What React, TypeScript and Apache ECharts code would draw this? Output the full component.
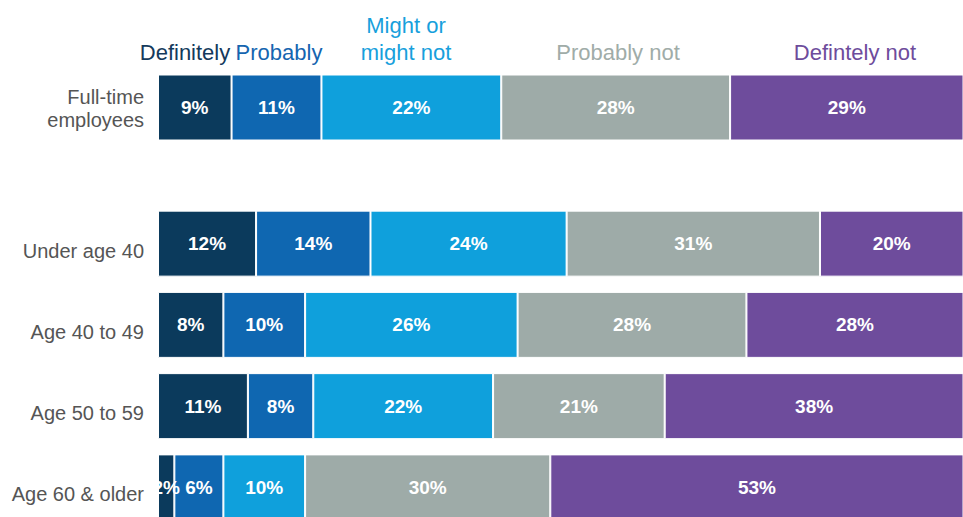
import React, { useEffect, useRef } from "react";
import * as echarts from "echarts";

const seriesNames = ["Definitely", "Probably", "Might or\nmight not", "Probably not", "Defintely not"];
const seriesColors = ["#0b3a5c", "#0f67b1", "#0fa0dc", "#9eaba8", "#6e4c9c"];
const headerColors = ["#143a5c", "#1565b0", "#17a0dc", "#a0aca8", "#6e4c9c"];

const topCategories = ["Full-time\nemployees"];
const topValues = [[9], [11], [22], [28], [29]];

const ageCategories = ["Under age 40", "Age 40 to 49", "Age 50 to 59", "Age 60 & older"];
const definitely = [12, 8, 11, 2];
const probably = [14, 10, 8, 6];
const mightOrMightNot = [24, 26, 22, 10];
const probablyNot = [31, 28, 21, 30];
const definitelyNot = [20, 28, 38, 53];
const ageValues = [definitely, probably, mightOrMightNot, probablyNot, definitelyNot];

const headerX = [185, 279, 406, 618, 855];

const FONT = "'Liberation Sans', Arial, sans-serif";

export default function App() {
  const ref = useRef<HTMLDivElement>(null);
  useEffect(() => {
    if (!ref.current) return;
    const chart = echarts.init(ref.current, null, { renderer: "svg" });
    const xMax = 98.5;
    const mkSeries = (vals: number[][], idx: number) =>
      vals.map((v, i) => ({
        type: "bar",
        name: seriesNames[i],
        stack: "s" + idx,
        xAxisIndex: idx,
        yAxisIndex: idx,
        data: v,
        barWidth: 66,
        clip: true,
        itemStyle: { color: seriesColors[i], borderColor: "#ffffff", borderWidth: 1 },
        label: {
          show: true,
          position: "inside",
          formatter: "{c}%",
          color: "#ffffff",
          fontFamily: FONT,
          fontSize: 19,
          fontWeight: "bold",
        },
      }));
    const yAxisBase = {
      type: "category",
      inverse: true,
      axisLine: { show: false },
      axisTick: { show: false },
    };
    const richStyle = (padTop: number) => ({
      fontFamily: FONT,
      fontSize: 20,
      color: "#555555",
      lineHeight: 25,
      padding: [padTop, 0, 0, 0],
    });
    const xAxisBase = {
      type: "value",
      min: 0,
      max: xMax,
      show: false,
    };
    chart.setOption({
      animation: false,
      grid: [
        { left: 158, right: 0, top: 67, height: 81, outerBoundsMode: "none", containLabel: false },
        { left: 158, right: 0, top: 203, height: 325, outerBoundsMode: "none", containLabel: false },
      ],
      xAxis: [
        { ...xAxisBase, gridIndex: 0 },
        { ...xAxisBase, gridIndex: 1 },
      ],
      yAxis: [
        {
          ...yAxisBase,
          gridIndex: 0,
          data: topCategories,
          axisLabel: {
            margin: 14,
            formatter: (v: string) => {
              const parts = v.split("\n");
              return parts.map((p, k) => (k === 0 ? `{b|${p}}` : `{a|${p}}`)).join("\n");
            },
            rich: { a: richStyle(0), b: richStyle(4) },
          },
        },
        {
          ...yAxisBase,
          gridIndex: 1,
          data: ageCategories,
          axisLabel: {
            margin: 14,
            formatter: (v: string) => `{a|${v}}`,
            rich: { a: richStyle(14) },
          },
        },
      ],
      graphic: seriesNames.map((n, i) => ({
        type: "text",
        x: headerX[i],
        y: 66,
        style: {
          text: n,
          fill: headerColors[i],
          font: `22px ${FONT}`,
          textAlign: "center",
          textVerticalAlign: "bottom",
          lineHeight: 27,
        },
      })),
      series: [...mkSeries(topValues, 0), ...mkSeries(ageValues, 1)],
    });
    return () => chart.dispose();
  }, []);
  return <div ref={ref} style={{ width: 963, height: 517, position: "absolute", left: 0, top: 0 }} />;
}
